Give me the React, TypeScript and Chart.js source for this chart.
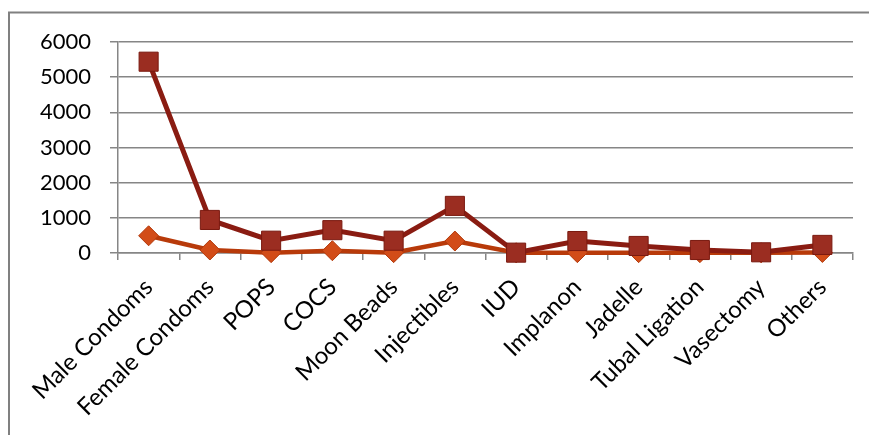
import React, { useEffect, useRef } from "react";
import { Chart, registerables } from "chart.js";

Chart.register(...registerables);

const categories = [
  "Male Condoms",
  "Female Condoms",
  "POPS",
  "COCS",
  "Moon Beads",
  "Injectibles",
  "IUD",
  "Implanon",
  "Jadelle",
  "Tubal Ligation",
  "Vasectomy",
  "Others",
];

const seriesA = [5440, 940, 350, 650, 350, 1340, 10, 340, 200, 85, 20, 230];
const seriesB = [490, 85, 10, 65, 10, 340, 5, 10, 10, 10, 5, 15];

const yTicks = { min: 0, max: 6000, step: 1000 };

const framePlugin = {
  id: "frame",
  beforeDraw(chart: any) {
    const ctx = chart.ctx;
    ctx.save();
    ctx.strokeStyle = "#808080";
    ctx.lineWidth = 2;
    ctx.beginPath();
    ctx.moveTo(1, chart.height + 5);
    ctx.lineTo(1, 4.5);
    ctx.lineTo(chart.width + 5, 4.5);
    ctx.stroke();
    ctx.restore();
  },
};

export default function App() {
  const ref = useRef<HTMLCanvasElement>(null);

  useEffect(() => {
    if (!ref.current) return;
    const chart = new Chart(ref.current, {
      type: "line",
      data: {
        labels: categories,
        datasets: [
          {
            label: "A",
            data: seriesA,
            borderColor: "#8a1c12",
            backgroundColor: "#9b2d21",
            pointBackgroundColor: "#9b2d21",
            pointBorderColor: "#7a1a10",
            pointBorderWidth: 1,
            pointStyle: "rect",
            pointRadius: 13.5,
            borderWidth: 5,
            tension: 0,
            clip: false as any,
          },
          {
            label: "B",
            data: seriesB,
            borderColor: "#b83a0a",
            backgroundColor: "#d24c18",
            pointBackgroundColor: "#d24c18",
            pointBorderColor: "#b23a0c",
            pointBorderWidth: 1,
            pointStyle: "rectRot",
            pointRadius: 10,
            borderWidth: 4.5,
            tension: 0,
            clip: false as any,
          },
        ],
      },
      options: {
        responsive: false,
        animation: false,
        layout: { padding: { top: 34, right: 16, left: 0, bottom: 0 } },
        plugins: {
          legend: { display: false },
          tooltip: { enabled: false },
        },
        scales: {
          x: {
            offset: true,
            afterFit: (s: any) => {
              s.height = 182;
            },
            grid: {
              offset: true,
              drawOnChartArea: false,
              drawTicks: true,
              tickLength: 7,
              color: "#868686",
              lineWidth: 1.5,
            },
            border: { display: true, color: "#868686", width: 1.5 },
            ticks: {
              color: "#000",
              font: { family: "Lato", size: 24 },
              maxRotation: 45,
              minRotation: 45,
              autoSkip: false,
              padding: 13,
            },
          },
          y: {
            min: yTicks.min,
            max: yTicks.max,
            afterFit: (s: any) => {
              s.width = 110;
            },
            grid: {
              color: "#868686",
              lineWidth: 1.5,
              tickLength: 8,
            },
            border: { display: true, color: "#868686", width: 1.5 },
            ticks: {
              stepSize: yTicks.step,
              color: "#000",
              font: { family: "Lato", size: 22 },
              padding: 19,
              callback: (v: any) => String(v),
            },
          },
        },
      },
      plugins: [framePlugin],
    });
    return () => chart.destroy();
  }, []);

  return (
    <div style={{ position: "fixed", left: 8, top: 8, width: 861, height: 427 }}>
      <canvas ref={ref} width={861} height={427} style={{ display: "block" }} />
    </div>
  );
}
